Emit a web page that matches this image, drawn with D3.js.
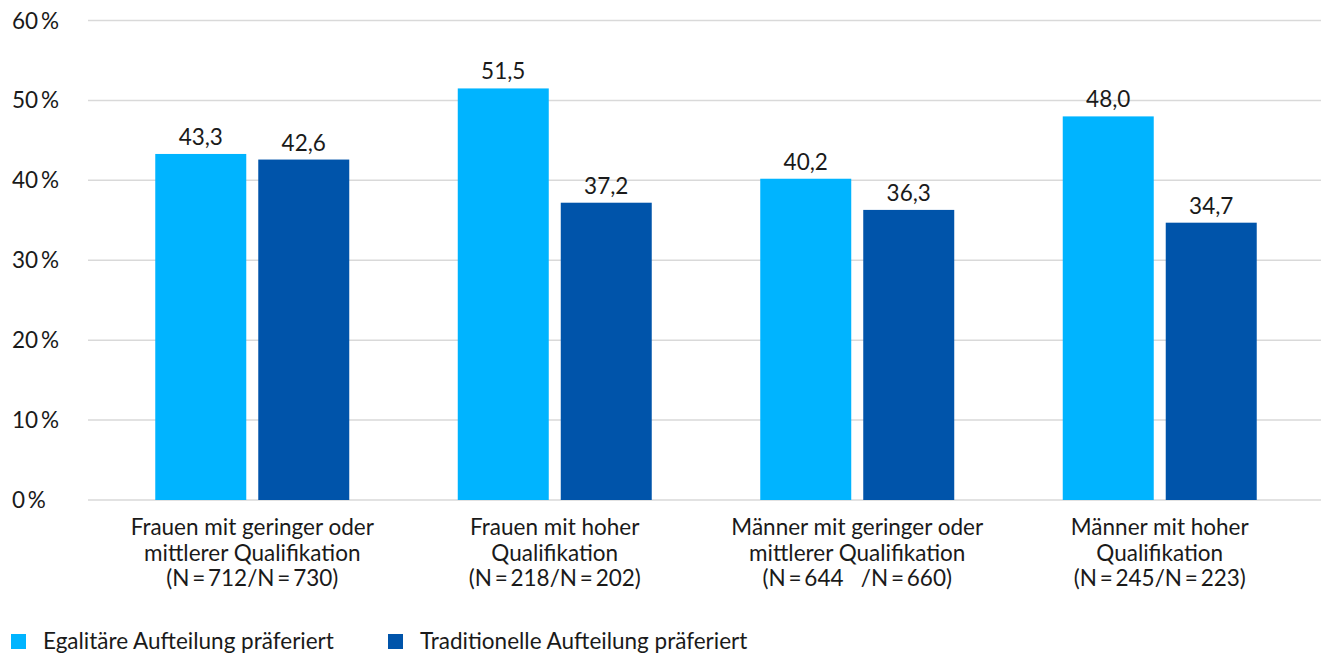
<!DOCTYPE html>
<html>
<head>
<meta charset="utf-8">
<script src="https://cdn.jsdelivr.net/npm/d3@7"></script>
<style>
  html, body { margin: 0; padding: 0; background: #fff; }
  svg { display: block; font-family: Lato, "Open Sans", sans-serif; }
</style>
</head>
<body>
<svg id="chart" width="1323" height="654"></svg>
<script>
// Category labels (one array per text line)
const categories = ["g1", "g2", "g3", "g4"];
const categoryLines = [
  ["Frauen mit geringer oder", "mittlerer Qualifikation", "(N\u2009=\u2009712/N\u2009=\u2009730)"],
  ["Frauen mit hoher", "Qualifikation", "(N\u2009=\u2009218/N\u2009=\u2009202)"],
  ["Männer mit geringer oder", "mittlerer Qualifikation", "(N\u2009=\u2009644\u00a0\u00a0\u00a0/N\u2009=\u2009660)"],
  ["Männer mit hoher", "Qualifikation", "(N\u2009=\u2009245/N\u2009=\u2009223)"]
];
const seriesNames = ["Egalitäre Aufteilung präferiert", "Traditionelle Aufteilung präferiert"];
const egalitaer = [43.3, 51.5, 40.2, 48.0];
const traditionell = [42.6, 37.2, 36.3, 34.7];
const yTicks = [0, 10, 20, 30, 40, 50, 60];
const colors = ["#00B4FF", "#0054AA"];

const svg = d3.select("#chart");
const fmt = v => v.toFixed(1).replace(".", ",");
const FS = 22.5;

const y = d3.scaleLinear().domain([0, 60]).range([500, 20.5]);
const x0 = d3.scaleBand().domain(categories).range([101, 1311]).paddingInner(0.3587).paddingOuter(0.1794);
const x1 = d3.scaleBand().domain([0, 1]).range([0, x0.bandwidth()]).paddingInner(0.1165);

// Gridlines
svg.append("g").selectAll("line").data(yTicks).join("line")
  .attr("x1", 88).attr("x2", 1321)
  .attr("y1", d => y(d)).attr("y2", d => y(d))
  .attr("stroke", "#d9d9d9").attr("stroke-width", 1.5);

// Y tick labels
svg.append("g").selectAll("text").data(yTicks).join("text")
  .attr("x", 12).attr("y", d => y(d) + 8)
  .attr("font-size", FS).attr("fill", "#1a1a1a")
  .text(d => d + "\u2009%");

// Bars
const seriesData = [egalitaer, traditionell];
const groups = svg.append("g").selectAll("g").data(categories).join("g")
  .attr("transform", d => `translate(${x0(d)},0)`);

groups.each(function(cat, i) {
  const g = d3.select(this);
  seriesData.forEach((vals, s) => {
    g.append("rect")
      .attr("x", x1(s)).attr("width", x1.bandwidth())
      .attr("y", y(vals[i])).attr("height", y(0) - y(vals[i]))
      .attr("fill", colors[s]);
    g.append("text")
      .attr("x", x1(s) + x1.bandwidth() / 2)
      .attr("y", y(vals[i]) - 9)
      .attr("text-anchor", "middle")
      .attr("font-size", FS).attr("fill", "#1a1a1a")
      .text(fmt(vals[i]));
  });
  // Category label lines
  const cx = x0.bandwidth() / 2;
  const t = g.append("text").attr("text-anchor", "middle").attr("font-size", FS).attr("fill", "#1a1a1a");
  categoryLines[i].forEach((line, k) => {
    t.append("tspan").attr("x", cx).attr("y", 535 + k * 25.5).text(line);
  });
});

// Legend
const legendX = [11, 388];
const legend = svg.append("g").selectAll("g").data(seriesNames).join("g")
  .attr("transform", (d, i) => `translate(${legendX[i]},0)`);
legend.append("rect").attr("x", 0).attr("y", 634).attr("width", 15).attr("height", 15)
  .attr("fill", (d, i) => colors[i]);
legend.append("text").attr("x", 32).attr("y", 649)
  .attr("font-size", FS).attr("fill", "#1a1a1a").text(d => d);
</script>
</body>
</html>
